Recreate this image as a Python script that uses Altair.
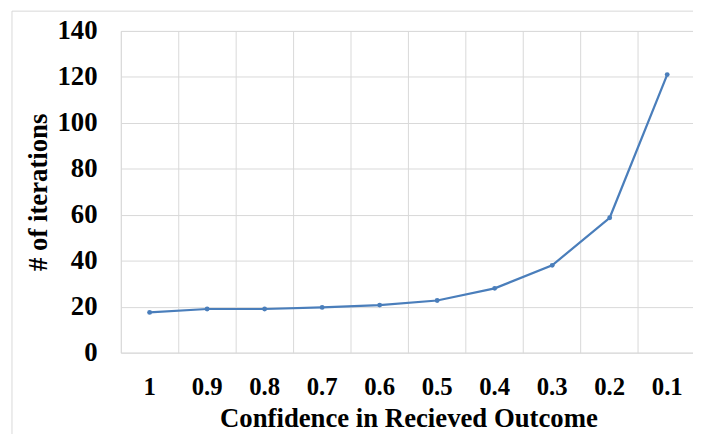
import altair as alt
import pandas as pd

confidence = ["1", "0.9", "0.8", "0.7", "0.6", "0.5", "0.4", "0.3", "0.2", "0.1"]
iterations = [17.5, 19, 19, 19.7, 20.7, 22.7, 28, 38, 58.7, 121]
y_ticks = [0, 20, 40, 60, 80, 100, 120, 140]

df = pd.DataFrame({"conf": confidence, "iters": iterations})

FONT = "Times New Roman, Liberation Serif, DejaVu Serif, serif"
GRID = "#d9d9d9"
LINE = "#4a7ebb"

frame = alt.Chart(pd.DataFrame({"k": [0]})).mark_rect(
    fillOpacity=0, stroke=GRID, strokeWidth=1, clip=False
).encode(
    x=alt.value(-110), x2=alt.value(700), y=alt.value(-20), y2=alt.value(600)
)

line = alt.Chart(df).mark_line(
    color=LINE, strokeWidth=2.25,
    point=alt.OverlayMarkDef(size=24, filled=True, color=LINE),
).encode(
    x=alt.X(
        "conf:N",
        sort=confidence,
        bandPosition=0.5,
        scale=alt.Scale(type="band", paddingInner=0, paddingOuter=0, range=[0, 581]),
        axis=alt.Axis(
            title="Confidence in Recieved Outcome",
            bandPosition=0,
            labelAngle=0,
            labelPadding=22,
            ticks=False,
            tickSize=0,
            domain=False,
            grid=True,
            gridColor=GRID,
            labelFont=FONT,
            labelFontSize=25,
            labelFontWeight="bold",
            labelColor="black",
            titleFont=FONT,
            titleFontSize=27,
            titleFontWeight="bold",
            titleColor="black",
            titlePadding=7,
        ),
    ),
    y=alt.Y(
        "iters:Q",
        scale=alt.Scale(domain=[0, 140], nice=False),
        axis=alt.Axis(
            title="# of iterations",
            values=y_ticks,
            ticks=False,
            tickSize=0,
            domain=False,
            grid=True,
            gridColor=GRID,
            labelPadding=24,
            labelFont=FONT,
            labelFontSize=27,
            labelFontWeight="bold",
            labelColor="black",
            titleFont=FONT,
            titleFontSize=27,
            titleFontWeight="bold",
            titleColor="black",
            titlePadding=5,
        ),
    ),
)

chart = alt.layer(frame, line).properties(
    width=578,
    height=325,
    autosize=alt.AutoSizeParams(type="none"),
    padding={"left": 114, "top": 21, "right": 0, "bottom": 80},
).configure_view(stroke=None).configure(background="white", font=FONT)

chart.save("out.html", embed_options={"renderer": "svg", "actions": False})
